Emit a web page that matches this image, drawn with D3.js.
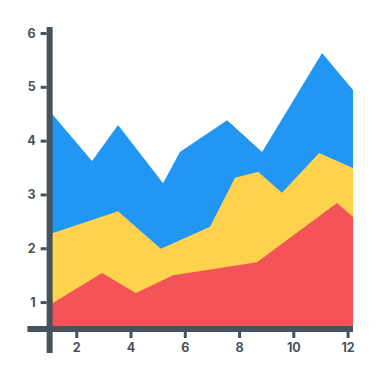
<!DOCTYPE html>
<html>
<head>
<meta charset="utf-8">
<script src="https://cdn.jsdelivr.net/npm/d3@7"></script>
<style>
  body { margin: 0; background: #fff; }
  .eje text { font-family: Inter, sans-serif; font-weight: 700; font-size: 12.5px; fill: #46525c; }
</style>
</head>
<body>
<div id="graf"></div>
<script>
// I. Datos (valor acumulado de la parte de arriba de cada capa)
x_azul = [1, 2.58, 3.54, 5.20, 5.82, 7.56, 8.85, 11.06, 12.2]
y_azul = [4.56, 3.62, 4.29, 3.21, 3.79, 4.38, 3.79, 5.63, 4.94]

x_amarillo = [1, 3.54, 5.12, 6.93, 7.85, 8.70, 9.58, 10.95, 12.2]
y_amarillo = [2.26, 2.69, 1.99, 2.40, 3.31, 3.42, 3.03, 3.77, 3.49]

x_rojo = [1, 2.95, 4.20, 5.57, 8.66, 11.61, 12.2]
y_rojo = [0.94, 1.54, 1.17, 1.50, 1.74, 2.84, 2.58]

ticks_x = [2, 4, 6, 8, 10, 12]
ticks_y = [1, 2, 3, 4, 5, 6]

// II. Configuración
ancho_total = 380
alto_total = 380
gris = '#46525c'

svg = d3.select('#graf').append('svg')
        .attr('width', ancho_total)
        .attr('height', alto_total)

x = d3.scaleLinear().domain([0, 12.2]).range([22, 353])
y = d3.scaleLinear().domain([0.5, 6]).range([329, 33])

capas = [
  { xs: x_azul, ys: y_azul, color: '#2196f3' },
  { xs: x_amarillo, ys: y_amarillo, color: '#ffd24d' },
  { xs: x_rojo, ys: y_rojo, color: '#f45458' }
]

area = d3.area()
         .x(d => x(d[0]))
         .y0(y(0.5))
         .y1(d => y(d[1]))

// III. Áreas
svg.selectAll('path.capa')
   .data(capas)
   .enter()
   .append('path')
     .attr('class', 'capa')
     .attr('fill', d => d.color)
     .attr('d', d => area(d.xs.map((v, i) => [v, d.ys[i]])))

// IV. Ejes
ejeX = x(1) + 0.5
ejeY = y(0.5)

yAxisCall = d3.axisLeft(y)
              .tickValues(ticks_y)
              .tickSize(6)
              .tickPadding(5)
              .tickFormat(d3.format('d'))
yAxisGroup = svg.append('g')
                .attr('class', 'eje')
                .attr('transform', `translate(${ejeX - 3}, 0)`)
                .call(yAxisCall)

xAxisCall = d3.axisBottom(x)
              .tickValues(ticks_x)
              .tickSize(6)
              .tickPadding(5)
              .tickFormat(d3.format('d'))
xAxisGroup = svg.append('g')
                .attr('class', 'eje')
                .attr('transform', `translate(0, ${ejeY + 3})`)
                .call(xAxisCall)

svg.selectAll('.eje .domain').remove()
svg.selectAll('.eje .tick line')
   .attr('stroke', gris)
   .attr('stroke-width', 3)

// barras gruesas de los ejes
svg.append('line')
   .attr('x1', x(0.2)).attr('x2', x(12.2))
   .attr('y1', ejeY).attr('y2', ejeY)
   .attr('stroke', gris).attr('stroke-width', 6)

svg.append('line')
   .attr('x1', ejeX).attr('x2', ejeX)
   .attr('y1', y(6.11)).attr('y2', ejeY + 24)
   .attr('stroke', gris).attr('stroke-width', 6)
</script>
</body>
</html>
